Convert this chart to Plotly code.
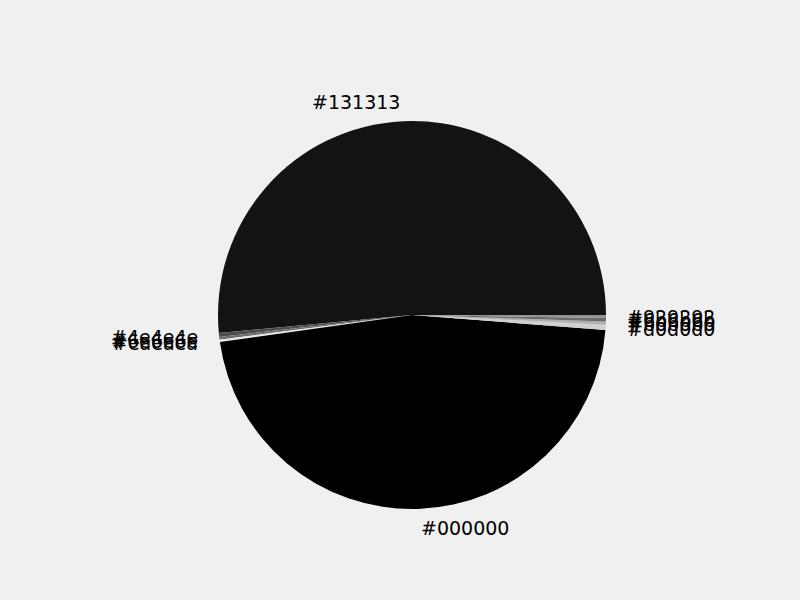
import math
import plotly.graph_objects as go

labels = ["#131313", "#4e4e4e", "#6e6e6e", "#eaeaea", "#000000",
          "#d0d0d0", "#b0b0b0", "#6b6b6b", "#929292"]
values = [185.3, 1.2, 0.8, 0.7, 167.6, 1.5, 1.0, 1.0, 0.9]
colors = labels

W, H = 800, 600
cx, cy, r = 412, 315, 194
total = sum(values)

# plotly (counterclockwise) places the first slice clockwise of `rotation`;
# shift so the first slice starts at 3 o'clock and runs counterclockwise
rot = 90 - values[0] / total * 360

fig = go.Figure(go.Pie(
    labels=labels, values=values, sort=False,
    direction="counterclockwise", rotation=rot,
    marker=dict(colors=colors, line=dict(width=0)),
    textinfo="none", hoverinfo="label+percent", showlegend=False,
    domain=dict(x=[(cx - r) / W, (cx + r) / W], y=[1 - (cy + r) / H, 1 - (cy - r) / H]),
))

cum = 0.0
annotations = []
for lab, v in zip(labels, values):
    mid = (cum + v / 2) / total * 2 * math.pi
    cum += v
    px = cx + 1.1 * r * math.cos(mid)
    py = cy - 1.1 * r * math.sin(mid)
    annotations.append(dict(
        x=px / W, y=1 - py / H, xref="paper", yref="paper", text=lab,
        showarrow=False, xanchor="left" if math.cos(mid) > 0 else "right",
        yanchor="middle", font=dict(family="DejaVu Sans", size=19, color="black"),
    ))

fig.update_layout(
    width=W, height=H, margin=dict(l=0, r=0, t=0, b=0),
    paper_bgcolor="#f0f0f0", plot_bgcolor="#f0f0f0",
    annotations=annotations,
)
fig.write_html("out.html")
